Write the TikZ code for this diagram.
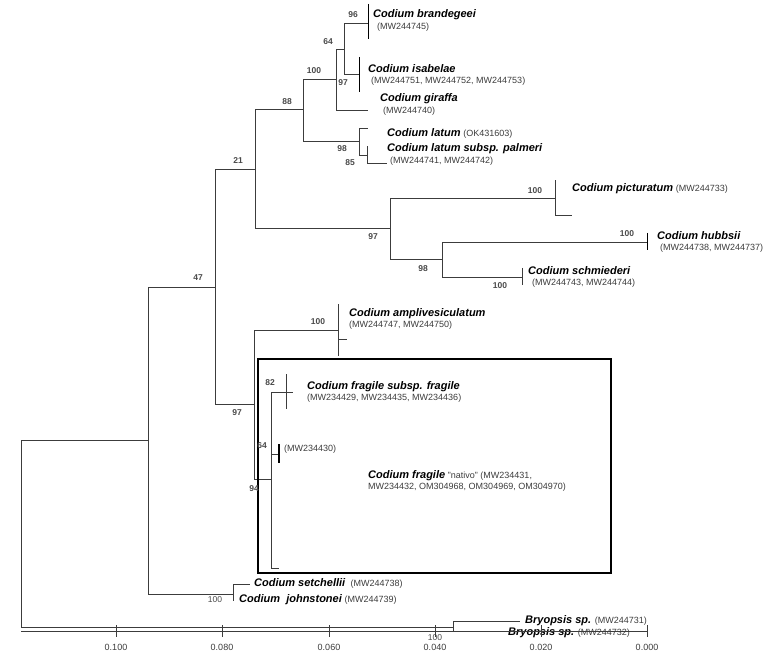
\documentclass[tikz,border=0pt]{standalone}
\usepackage{fontspec}
\setmainfont{Liberation Sans}
\usepackage{tikz}
\usetikzlibrary{positioning}
\definecolor{treeInk}{HTML}{3C3C3C}
\definecolor{bootInk}{HTML}{4A4A4A}
\newcommand{\codname}[1]{{\fontsize{11}{12}\selectfont\bfseries\itshape #1}}

\begin{document}
\begin{tikzpicture}[x=1pt, y=-1pt,
  branch/.style={draw=treeInk, line width=0.8pt},
  tipbar/.style={draw=black, line width=1pt},
  boot/.style={font=\fontsize{8.5}{9}\selectfont\bfseries, text=bootInk, inner sep=0pt},
  taxon/.style={anchor=west, inner sep=0pt},
  acc/.style={font=\fontsize{9}{10}\selectfont, text=treeInk, anchor=west, inner sep=0pt},
  scalelbl/.style={font=\fontsize{9}{10}\selectfont, text=treeInk, inner sep=0pt}]
  \useasboundingbox (0,0) rectangle (784,660);

  % internal nodes
  \coordinate (root) at (21,440);
  \coordinate (nIn) at (148,440);
  \coordinate (nA) at (215,287);
  \coordinate (nSJ) at (233,594);
  \coordinate (n21) at (255,169);
  \coordinate (n97c) at (254,404);
  \coordinate (n88) at (303,109);
  \coordinate (n97b) at (390,228);
  \coordinate (n100a) at (336,79);
  \coordinate (nLat) at (359,141);
  \coordinate (n64) at (344,49);
  \coordinate (nPal) at (367,155);
  \coordinate (nPic) at (555,198);
  \coordinate (n98) at (442,259);
  \coordinate (n94) at (271,479);
  \coordinate (nBry) at (453,627);

  % tips
  \coordinate (brandT) at (368,23);
  \coordinate (isabT) at (359,74);
  \coordinate (giraT) at (368,110);
  \coordinate (latT) at (368,128);
  \coordinate (palA) at (367,146);
  \coordinate (palB) at (387,163);
  \coordinate (picA) at (555,180);
  \coordinate (picB) at (572,215);
  \coordinate (hubT) at (647,242);
  \coordinate (schT) at (522,277);
  \coordinate (ampT) at (338,330);
  \coordinate (fragT) at (293,392);
  \coordinate (n64b) at (279,454);
  \coordinate (natT) at (279,568);
  \coordinate (setT) at (250,584);
  \coordinate (johT) at (233,601);
  \coordinate (bryA) at (520,621);
  \coordinate (bryB) at (507,631);

  % branches
  \draw[branch] (root) -- (nIn);
  \draw[branch] (root) |- (nBry);
  \draw[branch] (nIn) |- (nA);
  \draw[branch] (nIn) |- (nSJ);
  \draw[branch] (nA) |- (n21);
  \draw[branch] (nA) |- (n97c);
  \draw[branch] (n21) |- (n88);
  \draw[branch] (n21) |- (n97b);
  \draw[branch] (n88) |- (n100a);
  \draw[branch] (n88) |- (nLat);
  \draw[branch] (n100a) |- (n64);
  \draw[branch] (n100a) |- (giraT);
  \draw[branch] (n64) |- (brandT);
  \draw[branch] (n64) |- (isabT);
  \draw[branch] (nLat) |- (latT);
  \draw[branch] (nLat) |- (nPal);
  \draw[branch] (nPal) |- (palA);
  \draw[branch] (nPal) |- (palB);
  \draw[branch] (n97b) |- (nPic);
  \draw[branch] (n97b) |- (n98);
  \draw[branch] (nPic) |- (picA);
  \draw[branch] (nPic) |- (picB);
  \draw[branch] (n98) |- (hubT);
  \draw[branch] (n98) |- (schT);
  \draw[branch] (n97c) |- (ampT);
  \draw[branch] (n97c) |- (n94);
  \draw[branch] (n94) |- (fragT);
  \draw[branch] (n94) |- (n64b);
  \draw[branch] (n94) |- (natT);
  \draw[branch] (nSJ) |- (setT);
  \draw[branch] (nSJ) |- (johT);
  \draw[branch] (nBry) |- (bryA);
  \draw[branch] (nBry) |- (bryB);

  % collapsed tips
  \draw[tipbar] (brandT) ++(0,-19) -- ++(0,35);
  \draw[tipbar] (isabT) ++(0,-17) -- ++(0,35);
  \draw[tipbar] (hubT) ++(0,-9) -- ++(0,17);
  \draw[branch] (schT) ++(0,-9) -- ++(0,17);
  \draw[branch] (ampT) ++(0,-26) -- ++(0,52);
  \draw[branch] (ampT) ++(0,9) -- ++(9,0);
  \draw[branch] (fragT) ++(-7,-18) -- ++(0,35);
  \draw[tipbar, line width=1.4pt] (n64b) ++(0,-10) -- ++(0,19);

  % boxed native group
  \draw[black, line width=1.2pt] (258,359) rectangle (611,573);

  % bootstrap values
  \node[boot] (b47) at (198,278) {47};
  \node[boot] (b21) at (238,161) {21};
  \node[boot] (b88) at (287,102) {88};
  \node[boot] (b100a) at (314,71) {100};
  \node[boot] (b64) at (328,42) {64};
  \node[boot] (b96) at (353,15) {96};
  \node[boot] (b97a) at (343,83) {97};
  \node[boot] (b98a) at (342,149) {98};
  \node[boot] (b85) at (350,163) {85};
  \node[boot] (b97b) at (373,237) {97};
  \node[boot] (b100b) at (535,191) {100};
  \node[boot] (b100c) at (627,234) {100};
  \node[boot] (b98b) at (423,269) {98};
  \node[boot] (b100d) at (500,286) {100};
  \node[boot] (b100e) at (318,322) {100};
  \node[boot] (b97c) at (237,413) {97};
  \node[boot] (b82) at (270,383) {82};
  \node[boot] (b64b) at (262,446) {64};
  \node[boot] (b94) at (254,489) {94};
  \node[boot, font=\fontsize{8.5}{9}\selectfont] (b100f) at (215,600) {100};
  \node[boot, font=\fontsize{8.5}{9}\selectfont] (b100g) at (435,638) {100};

  % taxa
  \node[taxon] (brand) at (373,15) {\codname{Codium brandegeei}};
  \node[acc] (brandAcc) at (377,27) {(MW244745)};
  \node[taxon] (isab) at (368,69) {\codname{Codium isabelae}};
  \node[acc] (isabAcc) at (371,81) {(MW244751, MW244752, MW244753)};
  \node[taxon] (gira) at (380,99) {\codname{Codium giraffa}};
  \node[acc] (giraAcc) at (383,111) {(MW244740)};
  \node[taxon] (lat) at (387,133) {\codname{Codium latum} {\fontsize{9}{10}\selectfont\color{treeInk}(OK431603)}};
  \node[taxon] (pal) at (387,149) {\codname{Codium latum subsp. palmeri}};
  \node[acc] (palAcc) at (390,161) {(MW244741, MW244742)};
  \node[taxon] (pic) at (572,189) {\codname{Codium picturatum} {\fontsize{9}{10}\selectfont\color{treeInk}(MW244733)}};
  \node[taxon] (hub) at (657,236) {\codname{Codium hubbsii}};
  \node[acc] (hubAcc) at (660,248) {(MW244738, MW244737)};
  \node[taxon] (sch) at (528,271) {\codname{Codium schmiederi}};
  \node[acc] (schAcc) at (532,283) {(MW244743, MW244744)};
  \node[taxon] (amp) at (349,314) {\codname{Codium amplivesiculatum}};
  \node[acc] (ampAcc) at (349,325) {(MW244747, MW244750)};
  \node[taxon] (frag) at (307,387) {\codname{Codium fragile subsp. fragile}};
  \node[acc] (fragAcc) at (307,398) {(MW234429, MW234435, MW234436)};
  \node[acc] (n64bAcc) at (284,449) {(MW234430)};
  \node[taxon] (nat) at (368,476) {\codname{Codium fragile} {\fontsize{9}{10}\selectfont\color{treeInk}"nativo" (MW234431,}};
  \node[acc] (natAcc) at (368,487) {MW234432, OM304968, OM304969, OM304970)};
  \node[taxon] (set) at (254,583) {\codname{Codium setchellii} {\fontsize{9}{10}\selectfont\color{treeInk}\ (MW244738)}};
  \node[taxon] (joh) at (239,600) {\codname{Codium\ \ johnstonei} {\fontsize{9}{10}\selectfont\color{treeInk}(MW244739)}};
  \node[taxon] (bryU) at (525,621) {\codname{Bryopsis sp.} {\fontsize{9}{10}\selectfont\color{treeInk}(MW244731)}};
  \node[taxon] (bryL) at (508,633) {\codname{Bryopsis sp.} {\fontsize{9}{10}\selectfont\color{treeInk}(MW244732)}};

  % scale
  \draw[branch] (21,631) -- (647,631);
  \foreach \x/\lbl in {116/0.100, 222/0.080, 329/0.060, 435/0.040, 541/0.020, 647/0.000} {
    \draw[branch] (\x,625) -- (\x,637);
    \node[scalelbl] at (\x,647) {\lbl};
  }
\end{tikzpicture}
\end{document}
